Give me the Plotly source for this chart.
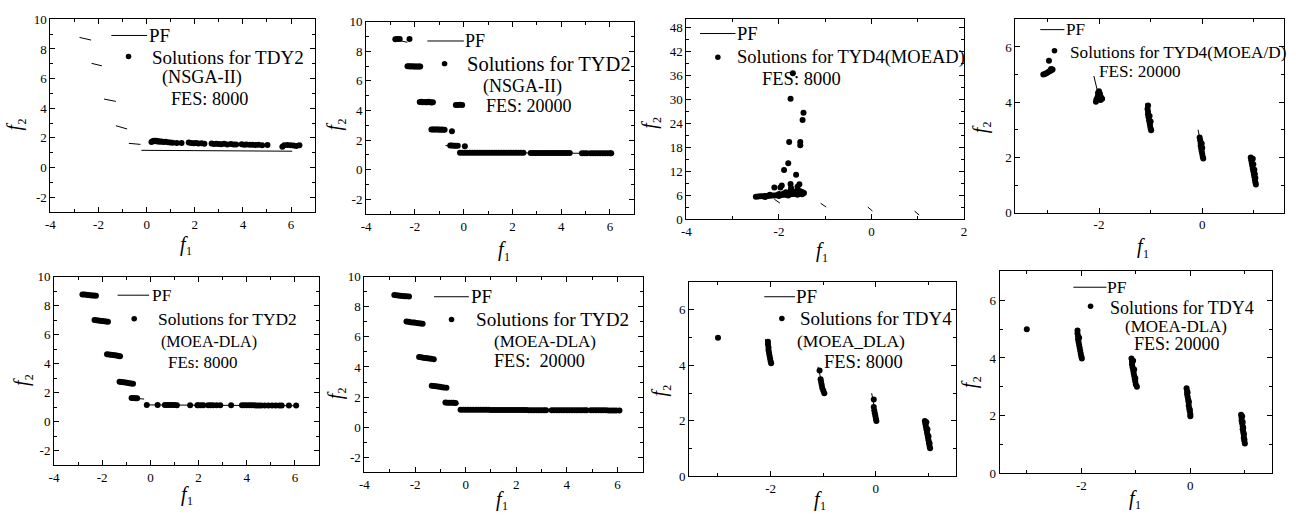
import plotly.graph_objects as go

W, H = 1296, 523
FONT = "Liberation Serif, Times New Roman, Times, serif"

# ---------------- data ----------------
# True Pareto fronts (None separates the disconnected pieces)
pf_tdy2_f1 = [-2.79, -2.31, None, -2.29, -1.86, None, -1.77, -1.28, None,
              -1.28, -0.81, None, -0.74, -0.26, None, -0.22, 6.05]
pf_tdy2_f2 = [8.78, 8.60, None, 7.03, 6.86, None, 4.62, 4.46, None,
              2.82, 2.60, None, 1.63, 1.56, None, 1.16, 1.10]

pf_tdy4_f1 = [-2.10, -1.98, None, -1.10, -0.98, None,
              -0.08, 0.02, None, 0.93, 1.03]
pf_tdy4_f2 = [4.95, 4.00, None, 3.95, 3.00, None,
              3.00, 2.00, None, 2.00, 1.00]

# Panel 1: TDY2, NSGA-II, FES 8000
p1_pts = [(0.20, 1.72), (0.25, 1.78), (0.30, 1.80), (0.35, 1.77), (0.40, 1.80), (0.45, 1.76),
          (0.50, 1.78), (0.55, 1.74), (0.62, 1.75), (0.70, 1.72), (0.78, 1.73), (0.88, 1.70),
          (0.98, 1.68), (1.08, 1.67), (1.25, 1.66), (1.45, 1.65), (1.75, 1.68), (1.85, 1.66),
          (1.95, 1.63), (2.05, 1.65), (2.15, 1.62), (2.28, 1.63), (2.40, 1.60), (2.70, 1.62),
          (2.80, 1.58), (2.90, 1.60), (3.00, 1.58), (3.10, 1.57), (3.22, 1.60), (3.35, 1.55),
          (3.50, 1.58), (3.62, 1.56), (3.72, 1.55), (3.95, 1.57), (4.05, 1.54), (4.15, 1.55),
          (4.28, 1.53), (4.40, 1.54), (4.52, 1.52), (4.65, 1.53), (4.80, 1.51), (5.02, 1.52),
          (5.64, 1.40), (5.72, 1.50), (5.85, 1.52), (5.98, 1.50), (6.10, 1.48), (6.22, 1.45),
          (6.35, 1.50)]

# Panel 2: TYD2, NSGA-II, FES 20000
p2_pts = [(-2.80, 8.80), (-2.72, 8.82), (-2.62, 8.82), (-2.22, 8.82),
          (-2.30, 6.98), (-2.24, 6.98), (-2.18, 6.97), (-2.12, 6.98), (-2.06, 6.97), (-2.00, 6.97),
          (-1.94, 6.96), (-1.88, 6.97), (-1.82, 6.96), (-1.78, 6.96),
          (-1.80, 4.57), (-1.74, 4.58), (-1.68, 4.56), (-1.62, 4.57), (-1.56, 4.55), (-1.50, 4.56),
          (-1.44, 4.58), (-1.38, 4.55), (-1.32, 4.54), (-1.26, 4.55),
          (-0.32, 4.37), (-0.24, 4.37), (-0.16, 4.38), (-0.06, 4.37),
          (-1.32, 2.72), (-1.26, 2.72), (-1.20, 2.71), (-1.14, 2.72), (-1.08, 2.71), (-1.02, 2.71),
          (-0.96, 2.70), (-0.90, 2.71), (-0.84, 2.70), (-0.78, 2.70), (-0.48, 2.60),
          (-0.55, 1.63), (-0.48, 1.63), (-0.40, 1.62), (-0.32, 1.62), (-0.24, 1.62), (0.05, 1.58),
          (-0.15, 1.15), (-0.05, 1.15), (0.05, 1.15), (0.15, 1.15), (0.25, 1.15), (0.35, 1.15),
          (0.45, 1.15), (0.55, 1.15), (0.65, 1.15), (0.75, 1.15), (0.85, 1.15), (0.95, 1.15),
          (1.05, 1.14), (1.15, 1.14), (1.25, 1.14), (1.35, 1.14), (1.45, 1.14), (1.55, 1.14),
          (1.65, 1.14), (1.75, 1.14), (1.85, 1.14), (1.95, 1.14), (2.05, 1.14), (2.15, 1.14),
          (2.25, 1.14), (2.35, 1.14), (2.45, 1.14),
          (2.75, 1.13), (2.85, 1.13), (2.95, 1.13), (3.05, 1.13),
          (3.15, 1.13), (3.25, 1.13), (3.35, 1.13), (3.45, 1.13), (3.55, 1.13), (3.65, 1.13),
          (3.75, 1.13), (3.85, 1.13), (3.95, 1.13), (4.05, 1.13), (4.15, 1.13), (4.25, 1.13),
          (4.35, 1.13),
          (4.85, 1.12), (4.95, 1.12), (5.05, 1.12),
          (5.20, 1.12), (5.30, 1.12), (5.40, 1.12), (5.50, 1.12), (5.60, 1.12), (5.70, 1.12),
          (5.80, 1.12), (5.90, 1.12), (6.00, 1.12), (6.05, 1.12)]

# Panel 3: TYD4, MOEAD, FES 8000
p3_pts = [(-1.70, 36.5), (-1.75, 30.1), (-1.47, 26.6), (-1.49, 24.8), (-1.78, 19.3), (-1.54, 19.3),
          (-1.54, 18.5), (-1.80, 14.0), (-1.89, 12.3), (-1.63, 11.1), (-2.10, 7.9), (-1.94, 8.4),
          (-1.97, 7.9), (-1.75, 8.8), (-1.56, 8.7), (-1.60, 8.1), (-1.74, 7.8),
          (-2.50, 5.60), (-2.45, 5.65), (-2.40, 5.70), (-2.35, 5.70), (-2.30, 5.75), (-2.25, 5.80),
          (-2.20, 5.85), (-2.15, 5.90), (-2.10, 5.90), (-2.05, 5.95), (-2.00, 6.00), (-1.95, 6.05),
          (-1.90, 6.10), (-1.85, 6.10), (-1.80, 6.15), (-1.75, 6.20), (-1.70, 6.25), (-1.65, 6.30),
          (-1.60, 6.35), (-1.55, 6.40), (-1.50, 6.45), (-1.46, 6.50),
          (-2.20, 6.10), (-2.00, 6.30), (-1.90, 6.40), (-1.80, 6.50), (-1.70, 6.60), (-1.60, 6.70),
          (-1.50, 6.80), (-1.75, 7.00), (-1.55, 7.00), (-1.85, 6.70), (-1.65, 6.90),
          (-2.30, 5.50), (-2.00, 5.75), (-1.80, 5.90), (-1.60, 6.10), (-1.50, 6.20)]

# Panel 4: TYD4, MOEA/D, FES 20000
p4_pts = [(-3.08, 5.00), (-3.05, 5.02), (-3.02, 5.05), (-2.99, 5.08), (-2.96, 5.12), (-2.93, 5.15),
          (-2.90, 5.18), (-2.93, 5.20), (-2.97, 5.50),
          (-2.06, 4.02), (-2.05, 4.10), (-2.03, 4.18), (-2.01, 4.25), (-2.02, 4.33), (-2.00, 4.40),
          (-1.98, 4.30), (-1.96, 4.18), (-1.94, 4.12), (-1.97, 4.08),
          (-1.05, 3.88), (-1.06, 3.75), (-1.05, 3.65), (-1.05, 3.55), (-1.04, 3.45), (-1.03, 3.35),
          (-1.02, 3.25), (-1.01, 3.15), (-1.00, 3.05), (-0.99, 2.98), (-1.02, 3.50), (-1.00, 3.30),
          (-0.05, 2.72), (-0.04, 2.62), (-0.03, 2.52), (-0.03, 2.42), (-0.02, 2.32), (-0.01, 2.22),
          (0.00, 2.12), (0.01, 2.02), (0.02, 1.96), (-0.01, 2.50), (0.00, 2.35),
          (0.94, 2.00), (0.95, 1.90), (0.96, 1.80), (0.97, 1.70), (0.98, 1.60), (0.99, 1.50),
          (1.00, 1.40), (1.01, 1.30), (1.02, 1.20), (1.03, 1.10), (1.04, 1.02), (0.98, 1.95),
          (0.99, 1.75), (1.01, 1.55), (1.02, 1.40), (1.03, 1.25)]

# Panel 5: TYD2, MOEA-DLA, FEs 8000
p5_pts = [(-2.82, 8.78), (-2.74, 8.77), (-2.66, 8.75), (-2.58, 8.74), (-2.50, 8.72), (-2.42, 8.71),
          (-2.34, 8.70), (-2.26, 8.68),
          (-2.32, 7.02), (-2.24, 7.00), (-2.16, 6.98), (-2.08, 6.96), (-2.00, 6.95), (-1.92, 6.93),
          (-1.84, 6.91), (-1.76, 6.89),
          (-1.80, 4.66), (-1.72, 4.64), (-1.64, 4.62), (-1.56, 4.60), (-1.48, 4.58), (-1.40, 4.56),
          (-1.32, 4.54), (-1.26, 4.52),
          (-1.28, 2.76), (-1.20, 2.74), (-1.12, 2.72), (-1.04, 2.70), (-0.96, 2.68), (-0.88, 2.66),
          (-0.80, 2.64), (-0.72, 2.62),
          (-0.78, 1.64), (-0.70, 1.63), (-0.62, 1.62), (-0.55, 1.62),
          (-0.15, 1.15), (0.30, 1.15), (0.60, 1.15), (0.70, 1.15), (0.80, 1.15), (0.90, 1.15),
          (1.00, 1.15), (1.10, 1.14), (1.65, 1.14), (1.95, 1.14), (2.00, 1.14), (2.10, 1.14),
          (2.20, 1.14), (2.40, 1.14), (2.50, 1.14), (2.60, 1.13), (2.75, 1.13), (2.90, 1.13),
          (3.35, 1.13), (3.80, 1.13), (3.90, 1.13), (4.00, 1.13), (4.10, 1.13), (4.20, 1.13),
          (4.30, 1.13), (4.40, 1.12), (4.50, 1.12), (4.60, 1.12), (4.75, 1.12), (4.90, 1.12),
          (5.05, 1.12), (5.20, 1.12), (5.35, 1.12), (5.45, 1.12), (5.75, 1.12), (6.05, 1.11)]

# Panel 6: TYD2, MOEA-DLA, FES 20000
p6_pts = [(-2.82, 8.78), (-2.74, 8.77), (-2.66, 8.75), (-2.58, 8.74), (-2.50, 8.72), (-2.42, 8.71),
          (-2.34, 8.70), (-2.24, 8.68),
          (-2.34, 7.02), (-2.26, 7.00), (-2.18, 6.98), (-2.10, 6.96), (-2.02, 6.95), (-1.94, 6.93),
          (-1.86, 6.91), (-1.78, 6.89), (-1.70, 6.88),
          (-1.84, 4.66), (-1.76, 4.64), (-1.68, 4.62), (-1.60, 4.60), (-1.52, 4.58), (-1.44, 4.56),
          (-1.36, 4.54), (-1.26, 4.52),
          (-1.34, 2.76), (-1.26, 2.74), (-1.18, 2.72), (-1.10, 2.70), (-1.02, 2.68), (-0.94, 2.66),
          (-0.86, 2.64), (-0.76, 2.62),
          (-0.80, 1.64), (-0.72, 1.63), (-0.64, 1.63), (-0.56, 1.62), (-0.48, 1.62), (-0.40, 1.61),
          (-0.20, 1.15), (-0.10, 1.15), (0.00, 1.15), (0.10, 1.15), (0.20, 1.15), (0.30, 1.15),
          (0.40, 1.15), (0.50, 1.15), (0.60, 1.15), (0.70, 1.15), (0.80, 1.15), (0.90, 1.15),
          (1.00, 1.14), (1.10, 1.14), (1.20, 1.14), (1.30, 1.14), (1.40, 1.14), (1.50, 1.14),
          (1.60, 1.14), (1.70, 1.14), (1.80, 1.14), (1.90, 1.14), (2.00, 1.14), (2.10, 1.14),
          (2.20, 1.14), (2.30, 1.14), (2.40, 1.14), (2.50, 1.13), (2.60, 1.13), (2.70, 1.13),
          (2.80, 1.13), (2.90, 1.13), (3.00, 1.13), (3.10, 1.13), (3.18, 1.13),
          (3.40, 1.13), (3.50, 1.13), (3.60, 1.13), (3.70, 1.13), (3.80, 1.13), (3.90, 1.13),
          (4.00, 1.13), (4.10, 1.12), (4.20, 1.12), (4.30, 1.12), (4.40, 1.12), (4.50, 1.12),
          (4.60, 1.12), (4.70, 1.12), (4.78, 1.12),
          (4.95, 1.12), (5.05, 1.12), (5.15, 1.12), (5.25, 1.12), (5.35, 1.12), (5.45, 1.12),
          (5.55, 1.12), (5.65, 1.11), (5.75, 1.11), (5.85, 1.11), (5.95, 1.11), (6.08, 1.11)]

# Panel 7: TDY4, MOEA_DLA, FES 8000
p7_pts = [(-3.00, 5.00),
          (-2.05, 4.85), (-2.05, 4.75), (-2.04, 4.65), (-2.04, 4.55), (-2.03, 4.45), (-2.02, 4.35),
          (-2.01, 4.25), (-2.00, 4.15), (-1.99, 4.08),
          (-1.07, 3.82), (-1.05, 3.50), (-1.04, 3.40), (-1.03, 3.30), (-1.02, 3.20), (-1.00, 3.10),
          (-0.98, 3.00),
          (-0.04, 2.77), (-0.04, 2.50), (-0.03, 2.38), (-0.02, 2.28), (-0.01, 2.18), (0.00, 2.08),
          (0.01, 2.00),
          (0.93, 2.00), (0.94, 1.90), (0.95, 1.80), (0.96, 1.70), (0.97, 1.60), (0.98, 1.50),
          (0.99, 1.40), (1.00, 1.30), (1.01, 1.20), (1.02, 1.10), (1.03, 1.02), (0.96, 1.95),
          (0.98, 1.70), (1.00, 1.45), (1.02, 1.20)]

# Panel 8: TDY4, MOEA-DLA, FES 20000
p8_pts = [(-3.00, 5.00),
          (-2.07, 4.95), (-2.07, 4.85), (-2.06, 4.75), (-2.06, 4.65), (-2.05, 4.55), (-2.04, 4.45),
          (-2.03, 4.35), (-2.02, 4.25), (-2.01, 4.15), (-2.00, 4.05), (-1.99, 3.98), (-2.04, 4.70),
          (-1.08, 3.98), (-1.07, 3.88), (-1.07, 3.78), (-1.06, 3.68), (-1.05, 3.58), (-1.04, 3.48),
          (-1.03, 3.38), (-1.02, 3.28), (-1.01, 3.18), (-1.00, 3.08), (-0.98, 3.00), (-1.05, 3.90),
          (-1.03, 3.60), (-1.01, 3.30),
          (-0.07, 2.95), (-0.06, 2.85), (-0.06, 2.75), (-0.05, 2.65), (-0.04, 2.55), (-0.03, 2.45),
          (-0.03, 2.35), (-0.02, 2.25), (-0.01, 2.15), (0.00, 2.05), (0.00, 1.98), (-0.05, 2.80),
          (-0.03, 2.50), (-0.01, 2.20),
          (0.93, 2.03), (0.94, 1.93), (0.94, 1.83), (0.95, 1.73), (0.96, 1.63), (0.96, 1.53),
          (0.97, 1.43), (0.98, 1.33), (0.98, 1.23), (0.99, 1.13), (1.00, 1.03), (0.95, 1.98),
          (0.96, 1.78), (0.97, 1.58), (0.98, 1.38), (0.99, 1.18)]

# tick labels
ticks_tdy2_x = [-4, -2, 0, 2, 4, 6]
ticks_tdy2_y = [-2, 0, 2, 4, 6, 8, 10]
ticks_p3_x = [-4, -2, 0, 2]
ticks_p3_y = [0, 6, 12, 18, 24, 30, 36, 42, 48]
ticks_tdy4_x = [-2, 0]
ticks_tdy4_y = [0, 2, 4, 6]

# legend texts
leg_texts = [
    ["Solutions for TDY2", "(NSGA-II)", "FES: 8000"],
    ["Solutions for TYD2", "(NSGA-II)", "FES: 20000"],
    ["Solutions for TYD4(MOEAD)", "FES: 8000"],
    ["Solutions for TYD4(MOEA/D)", "FES: 20000"],
    ["Solutions for TYD2", "(MOEA-DLA)", "FEs: 8000"],
    ["Solutions for TYD2", "(MOEA-DLA)", "FES:  20000"],
    ["Solutions for TDY4", "(MOEA_DLA)", "FES: 8000"],
    ["Solutions for TDY4", "(MOEA-DLA)", "FES: 20000"],
]

# ---------------- layout (pixel geometry) ----------------
panels = [
    dict(box=(45.7, 12.7, 312.0, 211.0), xr=[-4, 7], yr=[-3, 10], xt=ticks_tdy2_x, yt=ticks_tdy2_y, ym=1, pf="tdy2", pts=p1_pts,
         xtitle=(182, 245), ytitle=(11, 121),
         leg=dict(line=(107, 143, 29.3), pf=(144, 29.3), dot=(124.3, 51), fs=[19, 19, 18.2, 18.2],
                  rows=[(147, 52), (157, 73), (166, 95)])),
    dict(box=(363.3, 15.0, 633.3, 213.3), xr=[-4, 7], yr=[-3, 10], xt=ticks_tdy2_x, yt=ticks_tdy2_y, ym=1, pf="tdy2", pts=p2_pts,
         xtitle=(501.7, 251), ytitle=(333, 121),
         leg=dict(line=(425, 461.7, 35), pf=(462, 35.5), dot=(442.3, 58.3), fs=[18, 20.5, 18, 18],
                  rows=[(464, 58.3), (480, 81.7), (483.3, 101.7)])),
    dict(box=(685.7, 12.7, 965.0, 218.3), xr=[-4, 2], yr=[0, 50], xt=ticks_p3_x, yt=ticks_p3_y, ym=3, pf="tdy4", pts=p3_pts,
         xtitle=(821.7, 252), ytitle=(649.3, 119),
         leg=dict(line=(699.3, 735, 27.3), pf=(735.7, 27.3), dot=(717.3, 51.7), fs=[18.5, 18.5, 18.5],
                  rows=[(736, 51.7), (760.7, 74)])),
    dict(box=(1016.7, 12.7, 1286.7, 211.7), xr=[-3.62, 1.58], yr=[0, 7], xt=ticks_tdy4_x, yt=ticks_tdy4_y, ym=1, pf="tdy4", pts=p4_pts,
         xtitle=(1145, 248), ytitle=(982, 124),
         leg=dict(line=(1041.7, 1066, 23.3), pf=(1066.7, 23.3), dot=(1056, 45), fs=[17.2, 17.2, 17.2],
                  rows=[(1071, 46.7), (1099.3, 66)])),
    dict(box=(49.3, 277.7, 316.0, 471.7), xr=[-4, 7], yr=[-3, 10], xt=ticks_tdy2_x, yt=ticks_tdy2_y, ym=1, pf="tdy2", pts=p5_pts,
         xtitle=(183.3, 503), ytitle=(18.3, 384),
         leg=dict(line=(113.3, 145, 296.7), pf=(146.7, 296.7), dot=(130, 321), fs=[17.4, 17.4, 16, 17],
                  rows=[(152.7, 321), (156, 345), (163.3, 365.7)])),
    dict(box=(361.7, 277.7, 641.7, 479.0), xr=[-4, 7], yr=[-3, 10], xt=ticks_tdy2_x, yt=ticks_tdy2_y, ym=1, pf="tdy2", pts=p6_pts,
         xtitle=(500, 508), ytitle=(333.3, 397.5),
         leg=dict(line=(431.7, 466.7, 298.3), pf=(468.3, 298.3), dot=(449.3, 321.7), fs=[19, 19.2, 17, 18.2],
                  rows=[(472.7, 321.7), (490.7, 344.3), (490.7, 364.3)])),
    dict(box=(688.3, 283.3, 957.3, 483.3), xr=[-3.55, 1.53], yr=[0, 7], xt=ticks_tdy4_x, yt=ticks_tdy4_y, ym=1, pf="tdy4", pts=p7_pts,
         xtitle=(820, 508), ytitle=(660, 395),
         leg=dict(line=(764, 795, 298.3), pf=(795, 298.3), dot=(781.7, 320.7), fs=[19, 19, 17.5, 18.5],
                  rows=[(799.3, 320.7), (796, 344.3), (823.3, 365)])),
    dict(box=(1000.7, 272.3, 1275.0, 480.0), xr=[-3.5, 1.5], yr=[0, 7], xt=ticks_tdy4_x, yt=ticks_tdy4_y, ym=1, pf="tdy4", pts=p8_pts,
         xtitle=(1136.7, 507), ytitle=(971.7, 386.7),
         leg=dict(line=(1075, 1108.3, 288.5), pf=(1108.3, 288.5), dot=(1092.3, 308), fs=[17.5, 18, 17, 18],
                  rows=[(1110.7, 309.5), (1125.7, 329), (1135, 347)])),
]


def px(x):
    return x / W


def py(y):
    return 1 - y / H


fig = go.Figure()
annotations = []
shapes = []

axis_common = dict(
    showline=True, linecolor="black", linewidth=1, mirror="ticks",
    ticks="inside", ticklen=5, tickwidth=1, tickcolor="black",
    showgrid=False, zeroline=False, fixedrange=True,
    tickfont=dict(family=FONT, size=13, color="black"),
)


def label(x, y, text, size, **kw):
    d = dict(x=px(x), y=py(y), xref="paper", yref="paper", showarrow=False, text=text,
             font=dict(family=FONT, size=size, color="black"), borderpad=0)
    if "style" in kw:
        d["font"]["style"] = kw.pop("style")
    d.update(kw)
    annotations.append(d)


for i, p in enumerate(panels):
    n = i + 1
    sfx = "" if n == 1 else str(n)
    x0, y0, x1, y1 = p["box"]

    if p["pf"] == "tdy2":
        pfx, pfy = pf_tdy2_f1, pf_tdy2_f2
    else:
        pfx, pfy = pf_tdy4_f1, pf_tdy4_f2
    fig.add_trace(go.Scatter(x=pfx, y=pfy, mode="lines", line=dict(color="black", width=1),
                             xaxis="x" + sfx, yaxis="y" + sfx, showlegend=False, hoverinfo="skip"))
    f1 = [a for a, b in p["pts"]]
    f2 = [b for a, b in p["pts"]]
    fig.add_trace(go.Scatter(x=f1, y=f2, mode="markers",
                             marker=dict(color="black", size=6, symbol="circle", line=dict(width=0)),
                             xaxis="x" + sfx, yaxis="y" + sfx, showlegend=False))

    fig.layout["xaxis" + sfx] = dict(
        axis_common, domain=[px(x0), px(x1)], range=p["xr"], anchor="y" + sfx,
        tickmode="array", tickvals=p["xt"], ticktext=[str(v) for v in p["xt"]],
        minor=dict(ticks="inside", ticklen=3, tickwidth=1, tickcolor="black", dtick=1, tick0=0, showgrid=False),
    )
    fig.layout["yaxis" + sfx] = dict(
        axis_common, domain=[py(y1), py(y0)], range=p["yr"], anchor="x" + sfx,
        tickmode="array", tickvals=p["yt"], ticktext=[str(v) for v in p["yt"]],
        minor=dict(ticks="inside", ticklen=3, tickwidth=1, tickcolor="black", dtick=p["ym"], tick0=0, showgrid=False),
    )

    # axis titles: italic f with a small index beside it
    tx, ty = p["xtitle"]
    label(tx - 2, ty - 1, "f", 20, style="italic", xanchor="center", yanchor="middle")
    label(tx + 3, ty + 6, "1", 12, xanchor="center", yanchor="middle")
    tx, ty = p["ytitle"]
    label(tx - 1, ty + 2, "f", 20, style="italic", xanchor="center", yanchor="middle", textangle=-90)
    label(tx + 6, ty - 3, "2", 12, xanchor="center", yanchor="middle", textangle=-90)

    # legend-like key
    lg = p["leg"]
    lx0, lx1, ly = lg["line"]
    shapes.append(dict(type="line", xref="paper", yref="paper", x0=px(lx0), x1=px(lx1), y0=py(ly), y1=py(ly),
                       line=dict(color="black", width=1)))
    label(lg["pf"][0], lg["pf"][1], "PF", lg["fs"][0], xanchor="left", yanchor="middle")
    dx, dy = lg["dot"]
    r = 2.8
    shapes.append(dict(type="circle", xref="paper", yref="paper", x0=px(dx - r), x1=px(dx + r),
                       y0=py(dy + r), y1=py(dy - r), fillcolor="black", line=dict(width=0)))
    for j, (txt, (rx, ry)) in enumerate(zip(leg_texts[i], lg["rows"])):
        label(rx, ry, txt, lg["fs"][j + 1], xanchor="left", yanchor="middle")

fig.update_layout(
    width=W, height=H, margin=dict(l=0, r=0, t=0, b=0),
    paper_bgcolor="white", plot_bgcolor="white", showlegend=False,
    annotations=annotations, shapes=shapes,
    font=dict(family=FONT, color="black"),
)

fig.write_html("out.html", config={"displayModeBar": False},
               post_script="document.body.style.margin='0px';")
